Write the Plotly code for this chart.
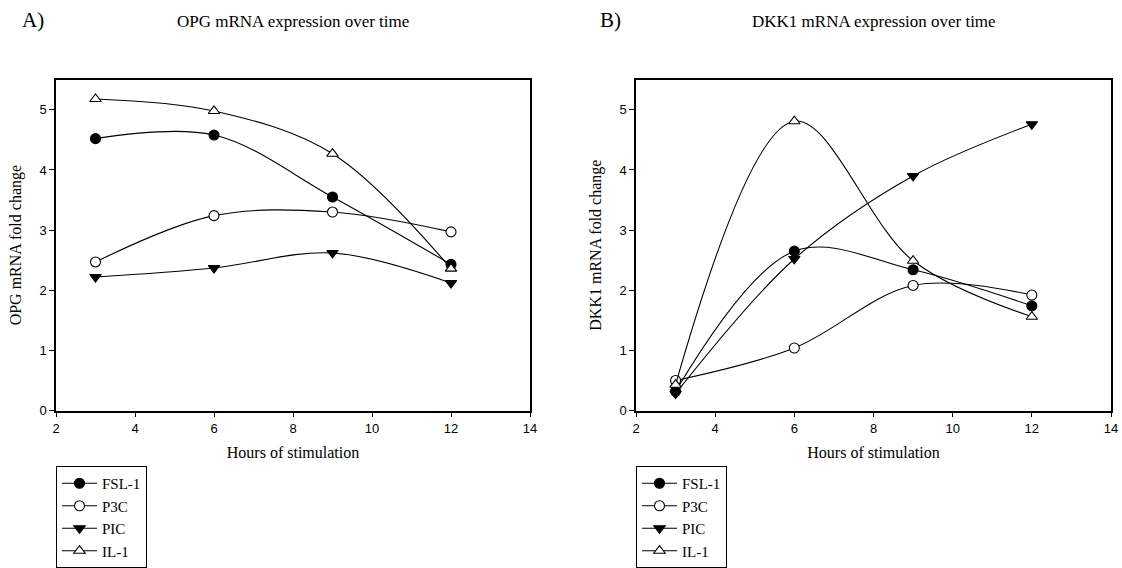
import plotly.graph_objects as go

hours = [3, 6, 9, 12]
series_names = ["FSL-1", "P3C", "PIC", "IL-1"]

# OPG mRNA fold change (panel A)
opg_fsl1 = [4.52, 4.58, 3.55, 2.43]
opg_p3c = [2.47, 3.24, 3.30, 2.97]
opg_pic = [2.22, 2.37, 2.62, 2.12]
opg_il1 = [5.18, 4.98, 4.27, 2.36]

# DKK1 mRNA fold change (panel B)
dkk_fsl1 = [0.32, 2.65, 2.34, 1.74]
dkk_p3c = [0.50, 1.04, 2.08, 1.92]
dkk_pic = [0.28, 2.52, 3.90, 4.76]
dkk_il1 = [0.43, 4.81, 2.49, 1.56]

x_ticks = [2, 4, 6, 8, 10, 12, 14]
y_ticks = [0, 1, 2, 3, 4, 5]

styles = {
    "FSL-1": dict(symbol="circle", fill="black", size=10),
    "P3C": dict(symbol="circle", fill="white", size=10),
    "PIC": dict(symbol="triangle-down", fill="black", size=10),
    "IL-1": dict(symbol="triangle-up", fill="white", size=10),
}

W, H = 1122, 568
SERIF = "Liberation Serif, Times New Roman, serif"
SANS = "Liberation Sans, Arial, sans-serif"

fig = go.Figure()

panels = [
    ("x", "y", "legend", [opg_fsl1, opg_p3c, opg_pic, opg_il1]),
    ("x2", "y2", "legend2", [dkk_fsl1, dkk_p3c, dkk_pic, dkk_il1]),
]
for xa, ya, lg, data in panels:
    for name, vals in zip(series_names, data):
        st = styles[name]
        fig.add_trace(go.Scatter(
            x=hours, y=vals, name=name, xaxis=xa, yaxis=ya, legend=lg,
            mode="lines+markers",
            line=dict(color="black", width=1.1, shape="spline", smoothing=1.0),
            marker=dict(symbol=st["symbol"], size=st["size"], color=st["fill"],
                        line=dict(color="black", width=1.1)),
        ))

def px_x(p):
    return p / W

def px_y(p):
    return 1 - p / H

xdom1 = [px_x(56), px_x(530)]
xdom2 = [px_x(636), px_x(1111)]
ydom = [px_y(412), px_y(80)]

axis_common = dict(
    showgrid=False, zeroline=False, showline=True, linecolor="black", linewidth=1.5,
    mirror=True, ticks="outside", ticklen=5, tickwidth=1.2, tickcolor="black",
    tickfont=dict(family=SANS, size=13, color="black"), automargin=False,
)
title_font = dict(family=SERIF, size=16, color="black")
legend_common = dict(xanchor="left", yanchor="top", bordercolor="black", borderwidth=1,
                     bgcolor="white", font=dict(family=SERIF, size=15, color="black"),
                     tracegroupgap=0, itemwidth=35)

fig.update_layout(
    template="none",
    width=W, height=H,
    margin=dict(l=0, r=0, t=0, b=0),
    paper_bgcolor="white", plot_bgcolor="white",
    showlegend=True,
    xaxis=dict(domain=xdom1, range=[2, 14], tickvals=x_ticks, anchor="y",
               title=dict(text="Hours of stimulation", font=title_font, standoff=12),
               **axis_common),
    yaxis=dict(domain=ydom, range=[0, 5.5], tickvals=y_ticks, anchor="x",
               title=dict(text="OPG mRNA fold change", font=title_font, standoff=14),
               **axis_common),
    xaxis2=dict(domain=xdom2, range=[2, 14], tickvals=x_ticks, anchor="y2",
                title=dict(text="Hours of stimulation", font=title_font, standoff=12),
                **axis_common),
    yaxis2=dict(domain=ydom, range=[0, 5.5], tickvals=y_ticks, anchor="x2",
                title=dict(text="DKK1 mRNA fold change", font=title_font, standoff=14),
                **axis_common),
    legend=dict(x=px_x(56), y=px_y(468), **legend_common),
    legend2=dict(x=px_x(636), y=px_y(468), **legend_common),
    annotations=[
        dict(text="A)", x=px_x(20), y=px_y(20), xref="paper", yref="paper",
             xanchor="left", yanchor="middle", showarrow=False,
             font=dict(family=SERIF, size=21, color="black")),
        dict(text="OPG mRNA expression over time", x=(xdom1[0] + xdom1[1]) / 2, y=px_y(22),
             xref="paper", yref="paper", xanchor="center", yanchor="middle", showarrow=False,
             font=dict(family=SERIF, size=17, color="black")),
        dict(text="B)", x=px_x(598), y=px_y(20), xref="paper", yref="paper",
             xanchor="left", yanchor="middle", showarrow=False,
             font=dict(family=SERIF, size=21, color="black")),
        dict(text="DKK1 mRNA expression over time", x=(xdom2[0] + xdom2[1]) / 2, y=px_y(22),
             xref="paper", yref="paper", xanchor="center", yanchor="middle", showarrow=False,
             font=dict(family=SERIF, size=17, color="black")),
    ],
)

fig.write_html("out.html")
